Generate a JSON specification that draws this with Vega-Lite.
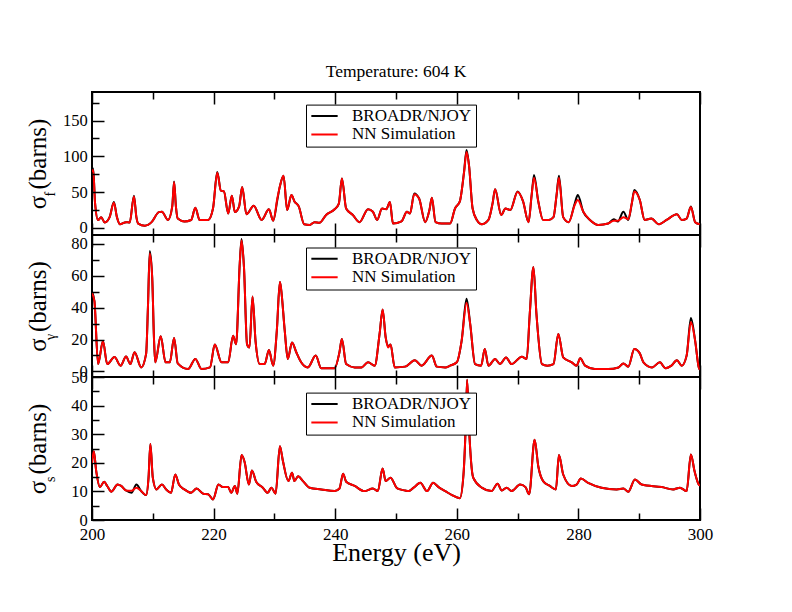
{
  "$schema": "https://vega.github.io/schema/vega-lite/v6.json",
  "background": "white",
  "padding": {"left": 24, "top": 61, "right": 5, "bottom": 5},
  "spacing": 0,
  "bounds": "flush",
  "datasets": {
    "fis": [
      {"E":200,"BROADR/NJOY":80,"NN Simulation":78},{"E":200.2,"BROADR/NJOY":83,"NN Simulation":81},{"E":200.5,"BROADR/NJOY":35,"NN Simulation":35},{"E":201,"BROADR/NJOY":11,"NN Simulation":11},{"E":201.5,"BROADR/NJOY":15,"NN Simulation":15},{"E":202.1,"BROADR/NJOY":7.5,"NN Simulation":7.5},{"E":202.9,"BROADR/NJOY":15,"NN Simulation":15},{"E":203.6,"BROADR/NJOY":36,"NN Simulation":35},{"E":204.1,"BROADR/NJOY":15,"NN Simulation":15},{"E":204.6,"BROADR/NJOY":5,"NN Simulation":5},{"E":205.6,"BROADR/NJOY":8,"NN Simulation":8},{"E":206.2,"BROADR/NJOY":7.5,"NN Simulation":7.5},{"E":206.9,"BROADR/NJOY":45,"NN Simulation":44},{"E":207.3,"BROADR/NJOY":15,"NN Simulation":15},{"E":207.6,"BROADR/NJOY":6,"NN Simulation":6},{"E":208.7,"BROADR/NJOY":3,"NN Simulation":3},{"E":209.8,"BROADR/NJOY":8,"NN Simulation":8},{"E":211,"BROADR/NJOY":22,"NN Simulation":22},{"E":211.5,"BROADR/NJOY":22.5,"NN Simulation":22.5},{"E":212.5,"BROADR/NJOY":11,"NN Simulation":11},{"E":213.2,"BROADR/NJOY":30,"NN Simulation":30},{"E":213.5,"BROADR/NJOY":65,"NN Simulation":64},{"E":213.8,"BROADR/NJOY":30,"NN Simulation":30},{"E":214.1,"BROADR/NJOY":13,"NN Simulation":13},{"E":215.2,"BROADR/NJOY":9,"NN Simulation":9},{"E":216.3,"BROADR/NJOY":11,"NN Simulation":11},{"E":217,"BROADR/NJOY":28,"NN Simulation":28},{"E":217.7,"BROADR/NJOY":11,"NN Simulation":11},{"E":219.1,"BROADR/NJOY":11,"NN Simulation":11},{"E":219.9,"BROADR/NJOY":27,"NN Simulation":27},{"E":220.6,"BROADR/NJOY":78,"NN Simulation":77},{"E":221.2,"BROADR/NJOY":52,"NN Simulation":52},{"E":221.7,"BROADR/NJOY":51,"NN Simulation":51},{"E":222.4,"BROADR/NJOY":20,"NN Simulation":20},{"E":223,"BROADR/NJOY":45,"NN Simulation":45},{"E":223.5,"BROADR/NJOY":22,"NN Simulation":22},{"E":224.2,"BROADR/NJOY":30,"NN Simulation":30},{"E":224.7,"BROADR/NJOY":57,"NN Simulation":57},{"E":225.4,"BROADR/NJOY":19,"NN Simulation":19},{"E":226.6,"BROADR/NJOY":31,"NN Simulation":31},{"E":227.9,"BROADR/NJOY":11,"NN Simulation":11},{"E":229.1,"BROADR/NJOY":26,"NN Simulation":26},{"E":229.8,"BROADR/NJOY":10,"NN Simulation":10},{"E":230.5,"BROADR/NJOY":40,"NN Simulation":42},{"E":230.9,"BROADR/NJOY":58,"NN Simulation":58},{"E":231.5,"BROADR/NJOY":73,"NN Simulation":73},{"E":232.1,"BROADR/NJOY":25,"NN Simulation":25},{"E":232.8,"BROADR/NJOY":46,"NN Simulation":46},{"E":233.3,"BROADR/NJOY":37,"NN Simulation":37},{"E":234,"BROADR/NJOY":30,"NN Simulation":30},{"E":234.9,"BROADR/NJOY":5,"NN Simulation":5},{"E":235.8,"BROADR/NJOY":4,"NN Simulation":4},{"E":236.6,"BROADR/NJOY":8,"NN Simulation":8},{"E":237.4,"BROADR/NJOY":7,"NN Simulation":7},{"E":238.5,"BROADR/NJOY":18,"NN Simulation":18},{"E":239.9,"BROADR/NJOY":26,"NN Simulation":26},{"E":240.6,"BROADR/NJOY":34,"NN Simulation":34},{"E":241.1,"BROADR/NJOY":69,"NN Simulation":69},{"E":241.8,"BROADR/NJOY":27,"NN Simulation":27},{"E":242.9,"BROADR/NJOY":18,"NN Simulation":18},{"E":244,"BROADR/NJOY":8,"NN Simulation":8},{"E":245.4,"BROADR/NJOY":26,"NN Simulation":26},{"E":246.2,"BROADR/NJOY":22.5,"NN Simulation":22.5},{"E":246.9,"BROADR/NJOY":11,"NN Simulation":11},{"E":247.7,"BROADR/NJOY":27,"NN Simulation":27},{"E":248.4,"BROADR/NJOY":26,"NN Simulation":26},{"E":249,"BROADR/NJOY":36,"NN Simulation":36},{"E":249.5,"BROADR/NJOY":6,"NN Simulation":6},{"E":250.9,"BROADR/NJOY":9,"NN Simulation":9},{"E":251.8,"BROADR/NJOY":22.5,"NN Simulation":22.5},{"E":252.3,"BROADR/NJOY":20,"NN Simulation":20},{"E":253,"BROADR/NJOY":48,"NN Simulation":47},{"E":253.8,"BROADR/NJOY":41,"NN Simulation":41},{"E":254.8,"BROADR/NJOY":8,"NN Simulation":8},{"E":255.5,"BROADR/NJOY":25,"NN Simulation":25},{"E":255.9,"BROADR/NJOY":42,"NN Simulation":42},{"E":256.5,"BROADR/NJOY":8,"NN Simulation":8},{"E":257.5,"BROADR/NJOY":6,"NN Simulation":6},{"E":258.9,"BROADR/NJOY":6,"NN Simulation":6},{"E":259.7,"BROADR/NJOY":27,"NN Simulation":27},{"E":260.5,"BROADR/NJOY":37,"NN Simulation":37},{"E":261.2,"BROADR/NJOY":79,"NN Simulation":78},{"E":261.6,"BROADR/NJOY":109,"NN Simulation":106},{"E":262,"BROADR/NJOY":88,"NN Simulation":88},{"E":262.6,"BROADR/NJOY":27,"NN Simulation":27},{"E":263.3,"BROADR/NJOY":11,"NN Simulation":11},{"E":264.1,"BROADR/NJOY":5,"NN Simulation":5},{"E":265.2,"BROADR/NJOY":11,"NN Simulation":11},{"E":265.9,"BROADR/NJOY":35,"NN Simulation":35},{"E":266.3,"BROADR/NJOY":54,"NN Simulation":54},{"E":267.3,"BROADR/NJOY":18,"NN Simulation":18},{"E":268,"BROADR/NJOY":27,"NN Simulation":27},{"E":268.8,"BROADR/NJOY":25,"NN Simulation":25},{"E":270,"BROADR/NJOY":51,"NN Simulation":50},{"E":270.9,"BROADR/NJOY":37,"NN Simulation":37},{"E":271.8,"BROADR/NJOY":8,"NN Simulation":8},{"E":272.3,"BROADR/NJOY":45,"NN Simulation":45},{"E":272.7,"BROADR/NJOY":74,"NN Simulation":70},{"E":273.4,"BROADR/NJOY":37,"NN Simulation":37},{"E":274.2,"BROADR/NJOY":11,"NN Simulation":11},{"E":275.1,"BROADR/NJOY":11,"NN Simulation":11},{"E":275.9,"BROADR/NJOY":15,"NN Simulation":15},{"E":276.4,"BROADR/NJOY":45,"NN Simulation":45},{"E":276.8,"BROADR/NJOY":73,"NN Simulation":70},{"E":277.5,"BROADR/NJOY":15,"NN Simulation":15},{"E":278.4,"BROADR/NJOY":8,"NN Simulation":8},{"E":279.4,"BROADR/NJOY":34,"NN Simulation":32},{"E":279.9,"BROADR/NJOY":46,"NN Simulation":39},{"E":280.8,"BROADR/NJOY":22.5,"NN Simulation":22.5},{"E":281.9,"BROADR/NJOY":11,"NN Simulation":11},{"E":283.3,"BROADR/NJOY":4,"NN Simulation":4},{"E":284.9,"BROADR/NJOY":6,"NN Simulation":6},{"E":285.8,"BROADR/NJOY":12,"NN Simulation":10},{"E":286.5,"BROADR/NJOY":9,"NN Simulation":10},{"E":287.4,"BROADR/NJOY":22.5,"NN Simulation":15},{"E":288.2,"BROADR/NJOY":11,"NN Simulation":12},{"E":288.8,"BROADR/NJOY":35,"NN Simulation":35},{"E":289.2,"BROADR/NJOY":53,"NN Simulation":51},{"E":290.1,"BROADR/NJOY":39,"NN Simulation":39},{"E":290.9,"BROADR/NJOY":11,"NN Simulation":11},{"E":292,"BROADR/NJOY":13,"NN Simulation":13},{"E":293.2,"BROADR/NJOY":5,"NN Simulation":5},{"E":294.5,"BROADR/NJOY":11,"NN Simulation":11},{"E":296.2,"BROADR/NJOY":19,"NN Simulation":19},{"E":297,"BROADR/NJOY":11,"NN Simulation":11},{"E":297.8,"BROADR/NJOY":13,"NN Simulation":13},{"E":298.5,"BROADR/NJOY":30,"NN Simulation":29},{"E":299.2,"BROADR/NJOY":8,"NN Simulation":8},{"E":300,"BROADR/NJOY":5,"NN Simulation":5}
    ],
    "cap": [
      {"E":200,"BROADR/NJOY":50,"NN Simulation":49},{"E":200.4,"BROADR/NJOY":44,"NN Simulation":44},{"E":201,"BROADR/NJOY":4.6,"NN Simulation":4.6},{"E":201.8,"BROADR/NJOY":19,"NN Simulation":19},{"E":202.5,"BROADR/NJOY":4.6,"NN Simulation":4.6},{"E":203.7,"BROADR/NJOY":9,"NN Simulation":9},{"E":204.7,"BROADR/NJOY":3.6,"NN Simulation":3.6},{"E":205.6,"BROADR/NJOY":9.4,"NN Simulation":9.4},{"E":206.3,"BROADR/NJOY":4.6,"NN Simulation":4.6},{"E":207,"BROADR/NJOY":12,"NN Simulation":12},{"E":208.1,"BROADR/NJOY":2.5,"NN Simulation":2.5},{"E":208.9,"BROADR/NJOY":11,"NN Simulation":11},{"E":209.2,"BROADR/NJOY":40,"NN Simulation":40},{"E":209.5,"BROADR/NJOY":75.5,"NN Simulation":74},{"E":209.9,"BROADR/NJOY":59,"NN Simulation":59},{"E":210.2,"BROADR/NJOY":20,"NN Simulation":20},{"E":210.4,"BROADR/NJOY":5.7,"NN Simulation":5.7},{"E":211.3,"BROADR/NJOY":22,"NN Simulation":22},{"E":212.1,"BROADR/NJOY":5.7,"NN Simulation":5.7},{"E":212.8,"BROADR/NJOY":5.7,"NN Simulation":5.7},{"E":213.5,"BROADR/NJOY":21,"NN Simulation":21},{"E":214.1,"BROADR/NJOY":5,"NN Simulation":5},{"E":215.8,"BROADR/NJOY":1.5,"NN Simulation":1.5},{"E":217,"BROADR/NJOY":7.8,"NN Simulation":7.8},{"E":218,"BROADR/NJOY":1.5,"NN Simulation":1.5},{"E":219.4,"BROADR/NJOY":2.5,"NN Simulation":2.5},{"E":220.2,"BROADR/NJOY":16.8,"NN Simulation":16.8},{"E":221.3,"BROADR/NJOY":5.7,"NN Simulation":5.7},{"E":222.4,"BROADR/NJOY":5.7,"NN Simulation":5.7},{"E":223.2,"BROADR/NJOY":22.4,"NN Simulation":22.4},{"E":223.7,"BROADR/NJOY":17,"NN Simulation":17},{"E":224.3,"BROADR/NJOY":67.5,"NN Simulation":67.5},{"E":224.6,"BROADR/NJOY":83,"NN Simulation":82},{"E":225,"BROADR/NJOY":65,"NN Simulation":65},{"E":225.5,"BROADR/NJOY":17,"NN Simulation":17},{"E":225.9,"BROADR/NJOY":15,"NN Simulation":15},{"E":226.4,"BROADR/NJOY":47,"NN Simulation":47},{"E":226.9,"BROADR/NJOY":19,"NN Simulation":19},{"E":227.6,"BROADR/NJOY":4.6,"NN Simulation":4.6},{"E":228.4,"BROADR/NJOY":4.6,"NN Simulation":4.6},{"E":229.1,"BROADR/NJOY":13.4,"NN Simulation":13.4},{"E":229.8,"BROADR/NJOY":3.6,"NN Simulation":3.6},{"E":230.4,"BROADR/NJOY":25.6,"NN Simulation":25.6},{"E":230.9,"BROADR/NJOY":56,"NN Simulation":56},{"E":231.1,"BROADR/NJOY":51.8,"NN Simulation":51.8},{"E":231.7,"BROADR/NJOY":25.6,"NN Simulation":25.6},{"E":232.2,"BROADR/NJOY":7.8,"NN Simulation":7.8},{"E":232.9,"BROADR/NJOY":18.2,"NN Simulation":18.2},{"E":233.6,"BROADR/NJOY":12,"NN Simulation":12},{"E":234.4,"BROADR/NJOY":5.7,"NN Simulation":5.7},{"E":235.5,"BROADR/NJOY":2.5,"NN Simulation":2.5},{"E":236.8,"BROADR/NJOY":9.9,"NN Simulation":9.9},{"E":237.7,"BROADR/NJOY":2,"NN Simulation":2},{"E":239.9,"BROADR/NJOY":2,"NN Simulation":2},{"E":240.7,"BROADR/NJOY":12,"NN Simulation":12},{"E":241.1,"BROADR/NJOY":20.3,"NN Simulation":20.3},{"E":241.8,"BROADR/NJOY":4.6,"NN Simulation":4.6},{"E":243.2,"BROADR/NJOY":2.5,"NN Simulation":2.5},{"E":244.3,"BROADR/NJOY":2.5,"NN Simulation":2.5},{"E":245.4,"BROADR/NJOY":5.7,"NN Simulation":5.7},{"E":246.5,"BROADR/NJOY":3.6,"NN Simulation":3.6},{"E":247.3,"BROADR/NJOY":23.5,"NN Simulation":23.5},{"E":247.8,"BROADR/NJOY":38.8,"NN Simulation":38.8},{"E":248.3,"BROADR/NJOY":21.4,"NN Simulation":21.4},{"E":248.7,"BROADR/NJOY":16,"NN Simulation":15},{"E":249.1,"BROADR/NJOY":16.8,"NN Simulation":16.8},{"E":249.8,"BROADR/NJOY":2.5,"NN Simulation":2.5},{"E":251.5,"BROADR/NJOY":3,"NN Simulation":3},{"E":253.1,"BROADR/NJOY":7,"NN Simulation":7},{"E":254.2,"BROADR/NJOY":3.6,"NN Simulation":3.6},{"E":255.9,"BROADR/NJOY":9.9,"NN Simulation":9.9},{"E":256.7,"BROADR/NJOY":3,"NN Simulation":3},{"E":258.1,"BROADR/NJOY":2.5,"NN Simulation":2.5},{"E":258.9,"BROADR/NJOY":3.6,"NN Simulation":3.6},{"E":260,"BROADR/NJOY":5.7,"NN Simulation":5.7},{"E":260.8,"BROADR/NJOY":19.3,"NN Simulation":19.3},{"E":261.6,"BROADR/NJOY":45.5,"NN Simulation":43},{"E":262.2,"BROADR/NJOY":29.8,"NN Simulation":29.8},{"E":263,"BROADR/NJOY":4.6,"NN Simulation":4.6},{"E":264,"BROADR/NJOY":3.6,"NN Simulation":3.6},{"E":264.6,"BROADR/NJOY":14,"NN Simulation":14},{"E":265.2,"BROADR/NJOY":3.6,"NN Simulation":3.6},{"E":266.3,"BROADR/NJOY":7.8,"NN Simulation":7.8},{"E":267.1,"BROADR/NJOY":4.6,"NN Simulation":4.6},{"E":268.1,"BROADR/NJOY":8.8,"NN Simulation":8.8},{"E":269,"BROADR/NJOY":4.6,"NN Simulation":4.6},{"E":270.7,"BROADR/NJOY":9.2,"NN Simulation":9.2},{"E":271.5,"BROADR/NJOY":7.8,"NN Simulation":7.8},{"E":272,"BROADR/NJOY":36,"NN Simulation":36},{"E":272.6,"BROADR/NJOY":65.4,"NN Simulation":65.4},{"E":273.1,"BROADR/NJOY":36,"NN Simulation":36},{"E":274,"BROADR/NJOY":4.6,"NN Simulation":4.6},{"E":274.9,"BROADR/NJOY":3.6,"NN Simulation":3.6},{"E":275.9,"BROADR/NJOY":4.6,"NN Simulation":4.6},{"E":276.7,"BROADR/NJOY":23.5,"NN Simulation":23.5},{"E":277.5,"BROADR/NJOY":8.8,"NN Simulation":8.8},{"E":278.9,"BROADR/NJOY":5.7,"NN Simulation":5.7},{"E":279.7,"BROADR/NJOY":3.6,"NN Simulation":3.6},{"E":280.3,"BROADR/NJOY":8.2,"NN Simulation":8.2},{"E":281.1,"BROADR/NJOY":3.6,"NN Simulation":3.6},{"E":282.7,"BROADR/NJOY":1.5,"NN Simulation":1.5},{"E":284.9,"BROADR/NJOY":1.5,"NN Simulation":1.5},{"E":286.6,"BROADR/NJOY":2.5,"NN Simulation":2.5},{"E":287.4,"BROADR/NJOY":5,"NN Simulation":5},{"E":288.2,"BROADR/NJOY":3,"NN Simulation":3},{"E":289.2,"BROADR/NJOY":14,"NN Simulation":14},{"E":290.1,"BROADR/NJOY":11.3,"NN Simulation":11.3},{"E":290.7,"BROADR/NJOY":5.7,"NN Simulation":5.7},{"E":292.1,"BROADR/NJOY":2.5,"NN Simulation":2.5},{"E":293.4,"BROADR/NJOY":5.7,"NN Simulation":5.7},{"E":294.3,"BROADR/NJOY":2,"NN Simulation":2},{"E":295.3,"BROADR/NJOY":3.6,"NN Simulation":3.6},{"E":296.2,"BROADR/NJOY":7,"NN Simulation":7},{"E":297,"BROADR/NJOY":3.6,"NN Simulation":3.6},{"E":297.8,"BROADR/NJOY":9.9,"NN Simulation":9.9},{"E":298.5,"BROADR/NJOY":33.5,"NN Simulation":31},{"E":299.2,"BROADR/NJOY":19.3,"NN Simulation":19.3},{"E":299.8,"BROADR/NJOY":2.5,"NN Simulation":2.5},{"E":300,"BROADR/NJOY":1,"NN Simulation":1}
    ],
    "sca": [
      {"E":200,"BROADR/NJOY":20,"NN Simulation":20},{"E":200.3,"BROADR/NJOY":24,"NN Simulation":24},{"E":200.7,"BROADR/NJOY":17,"NN Simulation":17},{"E":201.3,"BROADR/NJOY":11.5,"NN Simulation":11.5},{"E":202,"BROADR/NJOY":13.4,"NN Simulation":13.4},{"E":202.5,"BROADR/NJOY":11.9,"NN Simulation":11.9},{"E":203.2,"BROADR/NJOY":9.9,"NN Simulation":9.9},{"E":204.2,"BROADR/NJOY":12.4,"NN Simulation":12.4},{"E":204.8,"BROADR/NJOY":11.9,"NN Simulation":11.9},{"E":205.6,"BROADR/NJOY":10.3,"NN Simulation":10.3},{"E":206.5,"BROADR/NJOY":9.5,"NN Simulation":10.2},{"E":207.3,"BROADR/NJOY":12.4,"NN Simulation":11.3},{"E":208.1,"BROADR/NJOY":10.1,"NN Simulation":10.1},{"E":208.9,"BROADR/NJOY":8.7,"NN Simulation":8.7},{"E":209.3,"BROADR/NJOY":14.8,"NN Simulation":14.8},{"E":209.6,"BROADR/NJOY":26.6,"NN Simulation":26.6},{"E":210,"BROADR/NJOY":14.8,"NN Simulation":14.8},{"E":210.6,"BROADR/NJOY":10.7,"NN Simulation":10.7},{"E":211.5,"BROADR/NJOY":12.4,"NN Simulation":12.4},{"E":212.2,"BROADR/NJOY":10.7,"NN Simulation":10.7},{"E":213,"BROADR/NJOY":9.5,"NN Simulation":9.5},{"E":213.7,"BROADR/NJOY":15.9,"NN Simulation":15.9},{"E":214.3,"BROADR/NJOY":12.4,"NN Simulation":12.4},{"E":215.2,"BROADR/NJOY":10.7,"NN Simulation":10.7},{"E":216.3,"BROADR/NJOY":9.5,"NN Simulation":9.5},{"E":217.2,"BROADR/NJOY":11,"NN Simulation":11},{"E":218.3,"BROADR/NJOY":9.2,"NN Simulation":9.2},{"E":219.1,"BROADR/NJOY":9,"NN Simulation":9},{"E":219.9,"BROADR/NJOY":7.2,"NN Simulation":7.2},{"E":220.8,"BROADR/NJOY":12.4,"NN Simulation":12.4},{"E":221.5,"BROADR/NJOY":11.5,"NN Simulation":11.5},{"E":222.4,"BROADR/NJOY":11.5,"NN Simulation":11.5},{"E":222.9,"BROADR/NJOY":9.5,"NN Simulation":9.5},{"E":223.5,"BROADR/NJOY":11.9,"NN Simulation":11.9},{"E":223.9,"BROADR/NJOY":9.2,"NN Simulation":9.2},{"E":224.6,"BROADR/NJOY":22.7,"NN Simulation":22.7},{"E":225.1,"BROADR/NJOY":20.3,"NN Simulation":20.3},{"E":225.8,"BROADR/NJOY":12.4,"NN Simulation":12.4},{"E":226.3,"BROADR/NJOY":17.3,"NN Simulation":17.3},{"E":227,"BROADR/NJOY":13.4,"NN Simulation":13.4},{"E":228.1,"BROADR/NJOY":11.3,"NN Simulation":11.3},{"E":228.9,"BROADR/NJOY":9.5,"NN Simulation":9.5},{"E":229.5,"BROADR/NJOY":11.3,"NN Simulation":11.3},{"E":230.2,"BROADR/NJOY":9.2,"NN Simulation":9.2},{"E":230.9,"BROADR/NJOY":25.8,"NN Simulation":25.8},{"E":231.4,"BROADR/NJOY":20.6,"NN Simulation":20.6},{"E":232.3,"BROADR/NJOY":13.6,"NN Simulation":13.6},{"E":232.9,"BROADR/NJOY":16.5,"NN Simulation":16.5},{"E":233.3,"BROADR/NJOY":13.6,"NN Simulation":13.6},{"E":233.9,"BROADR/NJOY":15.3,"NN Simulation":15.3},{"E":234.7,"BROADR/NJOY":13.6,"NN Simulation":13.6},{"E":235.8,"BROADR/NJOY":11.3,"NN Simulation":11.3},{"E":237.7,"BROADR/NJOY":10.7,"NN Simulation":10.7},{"E":239.9,"BROADR/NJOY":10.1,"NN Simulation":10.1},{"E":240.7,"BROADR/NJOY":11,"NN Simulation":11},{"E":241.3,"BROADR/NJOY":16.2,"NN Simulation":16.2},{"E":241.8,"BROADR/NJOY":13.4,"NN Simulation":13.4},{"E":243.2,"BROADR/NJOY":11.9,"NN Simulation":11.9},{"E":244.8,"BROADR/NJOY":10.1,"NN Simulation":10.1},{"E":246.2,"BROADR/NJOY":11,"NN Simulation":11},{"E":247,"BROADR/NJOY":10.1,"NN Simulation":10.1},{"E":247.8,"BROADR/NJOY":18,"NN Simulation":18},{"E":248.3,"BROADR/NJOY":13.6,"NN Simulation":13.6},{"E":249.1,"BROADR/NJOY":14.8,"NN Simulation":14.8},{"E":250.1,"BROADR/NJOY":11.3,"NN Simulation":11.3},{"E":250.7,"BROADR/NJOY":10.7,"NN Simulation":10.7},{"E":251.5,"BROADR/NJOY":10.3,"NN Simulation":10.3},{"E":252.1,"BROADR/NJOY":10.1,"NN Simulation":10.1},{"E":252.9,"BROADR/NJOY":11.3,"NN Simulation":11.3},{"E":254,"BROADR/NJOY":13,"NN Simulation":13},{"E":255.1,"BROADR/NJOY":10.1,"NN Simulation":10.1},{"E":256.1,"BROADR/NJOY":13,"NN Simulation":13},{"E":257,"BROADR/NJOY":11.5,"NN Simulation":11.5},{"E":258.1,"BROADR/NJOY":10.1,"NN Simulation":10.1},{"E":259.2,"BROADR/NJOY":8.7,"NN Simulation":8.7},{"E":260.5,"BROADR/NJOY":7.6,"NN Simulation":7.6},{"E":261.1,"BROADR/NJOY":15.9,"NN Simulation":15.9},{"E":261.5,"BROADR/NJOY":35,"NN Simulation":35},{"E":261.7,"BROADR/NJOY":49,"NN Simulation":49},{"E":262,"BROADR/NJOY":33,"NN Simulation":33},{"E":262.7,"BROADR/NJOY":14.8,"NN Simulation":14.8},{"E":264.1,"BROADR/NJOY":11.3,"NN Simulation":11.3},{"E":265.7,"BROADR/NJOY":10.1,"NN Simulation":10.1},{"E":266.7,"BROADR/NJOY":12.7,"NN Simulation":12.7},{"E":267.4,"BROADR/NJOY":10.3,"NN Simulation":10.3},{"E":268.2,"BROADR/NJOY":11.3,"NN Simulation":11.3},{"E":269,"BROADR/NJOY":10.1,"NN Simulation":10.1},{"E":270.4,"BROADR/NJOY":12.4,"NN Simulation":12.4},{"E":271.3,"BROADR/NJOY":11.5,"NN Simulation":11.5},{"E":271.9,"BROADR/NJOY":9,"NN Simulation":9},{"E":272.8,"BROADR/NJOY":28.1,"NN Simulation":28.1},{"E":273.4,"BROADR/NJOY":18.8,"NN Simulation":18.8},{"E":274.2,"BROADR/NJOY":13.6,"NN Simulation":13.6},{"E":275.3,"BROADR/NJOY":11.9,"NN Simulation":11.9},{"E":276.3,"BROADR/NJOY":10.7,"NN Simulation":10.7},{"E":276.8,"BROADR/NJOY":22.7,"NN Simulation":22.7},{"E":277.5,"BROADR/NJOY":15.9,"NN Simulation":15.9},{"E":278.9,"BROADR/NJOY":11.9,"NN Simulation":11.9},{"E":279.7,"BROADR/NJOY":12.4,"NN Simulation":12.4},{"E":280.4,"BROADR/NJOY":14.5,"NN Simulation":14.5},{"E":281.6,"BROADR/NJOY":13,"NN Simulation":13},{"E":283.8,"BROADR/NJOY":11.3,"NN Simulation":11.3},{"E":286.3,"BROADR/NJOY":10.7,"NN Simulation":10.7},{"E":287.4,"BROADR/NJOY":11,"NN Simulation":11},{"E":288.2,"BROADR/NJOY":9.9,"NN Simulation":9.9},{"E":289.3,"BROADR/NJOY":14.2,"NN Simulation":14.2},{"E":290.4,"BROADR/NJOY":12.4,"NN Simulation":12.4},{"E":293.7,"BROADR/NJOY":11.5,"NN Simulation":11.5},{"E":295.6,"BROADR/NJOY":10.7,"NN Simulation":10.7},{"E":296.7,"BROADR/NJOY":11.3,"NN Simulation":11.3},{"E":297.8,"BROADR/NJOY":10.1,"NN Simulation":10.1},{"E":298.5,"BROADR/NJOY":22.9,"NN Simulation":22.9},{"E":299.1,"BROADR/NJOY":17.1,"NN Simulation":17.1},{"E":299.8,"BROADR/NJOY":12.4,"NN Simulation":12.4},{"E":300,"BROADR/NJOY":12,"NN Simulation":12}
    ]
  },
  "vconcat": [
    {
      "width": 608, "height": 143,
      "title": {"text": "Temperature: 604 K", "font": "Liberation Serif", "fontSize": 17.5, "fontWeight": "normal", "color": "black", "anchor": "middle", "frame": "group", "baseline": "alphabetic", "offset": -3},
      "data": {"name": "fis"},
      "layer": [
        {
          "transform": [{"fold": ["BROADR/NJOY", "NN Simulation"], "as": ["series", "sigma"]}],
          "mark": {"type": "line", "strokeWidth": 2, "clip": true, "interpolate": "monotone"},
          "encoding": {
            "x": {"field": "E", "type": "quantitative", "scale": {"domain": [200, 300], "nice": false, "zero": false},
                  "axis": {"orient": "bottom", "offset": -12, "zindex": 1, "domain": false, "grid": false, "tickColor": "#000000", "tickWidth": 1.5, "values": [200,210,220,230,240,250,260,270,280,290,300], "labels": false, "title": null, "tickSize": 12, "tickDash": {"condition": {"test": "datum.value % 20 === 0", "value": [12, 0]}, "value": [0, 5, 7, 0]}, "minExtent": 0, "maxExtent": 0}},
            "y": {"field": "sigma", "type": "quantitative", "scale": {"domain": [-10, 190], "nice": false, "zero": false},
                  "axis": {"orient": "left", "offset": -12, "zindex": 1, "domain": false, "grid": false, "tickColor": "#000000", "tickWidth": 1.5, "values": [0,25,50,75,100,125,150,175], "labelExpr": "datum.value % 50 === 0 ? datum.label : ''", "labelOverlap": false, "tickSize": 12, "tickDash": {"condition": {"test": "datum.value % 50 === 0", "value": [12, 0]}, "value": [0, 5, 7, 0]}, "labelFontSize": 16.5, "labelPadding": 4.7, "title": "σ  (barns)", "titleFontSize": 25, "titlePadding": 25, "minExtent": 29, "maxExtent": 29}},
            "color": {"field": "series", "type": "nominal", "scale": {"domain": ["BROADR/NJOY", "NN Simulation"], "range": ["#000000", "#ff0000"]},
                      "legend": {"title": null, "orient": "none", "legendX": 214, "legendY": 12.6, "direction": "vertical", "symbolType": "stroke", "symbolSize": 692, "symbolStrokeWidth": 2, "labelFont": "Liberation Serif", "labelFontSize": 17, "labelColor": "black", "labelOffset": 13, "padding": 4, "strokeColor": "black", "fillColor": "white", "rowPadding": 0.5, "clipHeight": 14.6}}
          }
        },
        {
          "transform": [{"fold": ["BROADR/NJOY", "NN Simulation"], "as": ["series", "sigma"]}],
          "mark": {"type": "line", "opacity": 0},
          "encoding": {
            "x": {"field": "E", "type": "quantitative", "axis": {"orient": "top", "offset": -12, "zindex": 1, "domain": false, "grid": false, "tickColor": "#000000", "tickWidth": 1.5, "values": [200,210,220,230,240,250,260,270,280,290,300], "labels": false, "title": null, "tickSize": 12, "tickDash": {"condition": {"test": "datum.value % 20 === 0", "value": [12, 0]}, "value": [0, 5, 7, 0]}, "minExtent": 0, "maxExtent": 0}},
            "y": {"field": "sigma", "type": "quantitative", "axis": null}
          }
        },
        {
          "data": {"values": [{}]},
          "mark": {"type": "text", "angle": 270, "align": "center", "baseline": "alphabetic", "font": "Liberation Serif", "fontSize": 14, "color": "black"},
          "encoding": {
            "x": {"datum": 193.9, "type": "quantitative", "axis": null},
            "y": {"datum": 47, "type": "quantitative", "axis": null},
            "text": {"value": "f"}
          }
        }
      ],
      "resolve": {"axis": {"x": "independent", "y": "independent"}}
    },
    {
      "width": 608, "height": 142,
      "data": {"name": "cap"},
      "layer": [
        {
          "transform": [{"fold": ["BROADR/NJOY", "NN Simulation"], "as": ["series", "sigma"]}],
          "mark": {"type": "line", "strokeWidth": 2, "clip": true, "interpolate": "monotone"},
          "encoding": {
            "x": {"field": "E", "type": "quantitative", "scale": {"domain": [200, 300], "nice": false, "zero": false},
                  "axis": {"orient": "bottom", "offset": -12, "zindex": 1, "domain": false, "grid": false, "tickColor": "#000000", "tickWidth": 1.5, "values": [200,210,220,230,240,250,260,270,280,290,300], "labels": false, "title": null, "tickSize": 12, "tickDash": {"condition": {"test": "datum.value % 20 === 0", "value": [12, 0]}, "value": [0, 5, 7, 0]}, "minExtent": 0, "maxExtent": 0}},
            "y": {"field": "sigma", "type": "quantitative", "scale": {"domain": [-3.5, 85.5], "nice": false, "zero": false},
                  "axis": {"orient": "left", "offset": -12, "zindex": 1, "domain": false, "grid": false, "tickColor": "#000000", "tickWidth": 1.5, "values": [0,10,20,30,40,50,60,70,80], "labelExpr": "datum.value % 20 === 0 ? datum.label : ''", "labelOverlap": false, "tickSize": 12, "tickDash": {"condition": {"test": "datum.value % 20 === 0", "value": [12, 0]}, "value": [0, 5, 7, 0]}, "labelFontSize": 16.5, "labelPadding": 4.7, "title": "σ  (barns)", "titleFontSize": 25, "titlePadding": 25, "minExtent": 29, "maxExtent": 29}},
            "color": {"field": "series", "type": "nominal", "scale": {"domain": ["BROADR/NJOY", "NN Simulation"], "range": ["#000000", "#ff0000"]},
                      "legend": {"title": null, "orient": "none", "legendX": 214, "legendY": 12.5, "direction": "vertical", "symbolType": "stroke", "symbolSize": 692, "symbolStrokeWidth": 2, "labelFont": "Liberation Serif", "labelFontSize": 17, "labelColor": "black", "labelOffset": 13, "padding": 4, "strokeColor": "black", "fillColor": "white", "rowPadding": 0.5, "clipHeight": 14.6}}
          }
        },
        {
          "transform": [{"fold": ["BROADR/NJOY", "NN Simulation"], "as": ["series", "sigma"]}],
          "mark": {"type": "line", "opacity": 0},
          "encoding": {
            "x": {"field": "E", "type": "quantitative", "axis": {"orient": "top", "offset": -12, "zindex": 1, "domain": false, "grid": false, "tickColor": "#000000", "tickWidth": 1.5, "values": [200,210,220,230,240,250,260,270,280,290,300], "labels": false, "title": null, "tickSize": 12, "tickDash": {"condition": {"test": "datum.value % 20 === 0", "value": [12, 0]}, "value": [0, 5, 7, 0]}, "minExtent": 0, "maxExtent": 0}},
            "y": {"field": "sigma", "type": "quantitative", "axis": null}
          }
        },
        {
          "data": {"values": [{}]},
          "mark": {"type": "text", "angle": 270, "align": "center", "baseline": "alphabetic", "font": "Liberation Serif", "fontSize": 14, "color": "black"},
          "encoding": {
            "x": {"datum": 193.9, "type": "quantitative", "axis": null},
            "y": {"datum": 21.7, "type": "quantitative", "axis": null},
            "text": {"value": "γ"}
          }
        }
      ],
      "resolve": {"axis": {"x": "independent", "y": "independent"}}
    },
    {
      "width": 608, "height": 143,
      "data": {"name": "sca"},
      "layer": [
        {
          "transform": [{"fold": ["BROADR/NJOY", "NN Simulation"], "as": ["series", "sigma"]}],
          "mark": {"type": "line", "strokeWidth": 2, "clip": true, "interpolate": "monotone"},
          "encoding": {
            "x": {"field": "E", "type": "quantitative", "scale": {"domain": [200, 300], "nice": false, "zero": false},
                  "axis": {"orient": "bottom", "offset": -12, "zindex": 1, "domain": false, "grid": false, "tickColor": "#000000", "tickWidth": 1.5, "values": [200,210,220,230,240,250,260,270,280,290,300], "labelExpr": "datum.value % 20 === 0 ? datum.label : ''", "labelOverlap": false, "labelFontSize": 17, "labelPadding": 6, "title": "Energy (eV)", "titleFontSize": 26, "titlePadding": 11, "minExtent": 20, "maxExtent": 20, "tickSize": 12, "tickDash": {"condition": {"test": "datum.value % 20 === 0", "value": [12, 0]}, "value": [0, 5, 7, 0]}}},
            "y": {"field": "sigma", "type": "quantitative", "scale": {"domain": [0, 50], "nice": false, "zero": false},
                  "axis": {"orient": "left", "offset": -12, "zindex": 1, "domain": false, "grid": false, "tickColor": "#000000", "tickWidth": 1.5, "values": [0,5,10,15,20,25,30,35,40,45,50], "labelExpr": "datum.value % 10 === 0 ? datum.label : ''", "labelOverlap": false, "tickSize": 12, "tickDash": {"condition": {"test": "datum.value % 10 === 0", "value": [12, 0]}, "value": [0, 5, 7, 0]}, "labelFontSize": 16.5, "labelPadding": 4.7, "title": "σ  (barns)", "titleFontSize": 25, "titlePadding": 25, "minExtent": 29, "maxExtent": 29}},
            "color": {"field": "series", "type": "nominal", "scale": {"domain": ["BROADR/NJOY", "NN Simulation"], "range": ["#000000", "#ff0000"]},
                      "legend": {"title": null, "orient": "none", "legendX": 214, "legendY": 15.6, "direction": "vertical", "symbolType": "stroke", "symbolSize": 692, "symbolStrokeWidth": 2, "labelFont": "Liberation Serif", "labelFontSize": 17, "labelColor": "black", "labelOffset": 13, "padding": 4, "strokeColor": "black", "fillColor": "white", "rowPadding": 0.5, "clipHeight": 14.6}}
          }
        },
        {
          "transform": [{"fold": ["BROADR/NJOY", "NN Simulation"], "as": ["series", "sigma"]}],
          "mark": {"type": "line", "opacity": 0},
          "encoding": {
            "x": {"field": "E", "type": "quantitative", "axis": {"orient": "top", "offset": -12, "zindex": 1, "domain": false, "grid": false, "tickColor": "#000000", "tickWidth": 1.5, "values": [200,210,220,230,240,250,260,270,280,290,300], "labels": false, "title": null, "tickSize": 12, "tickDash": {"condition": {"test": "datum.value % 20 === 0", "value": [12, 0]}, "value": [0, 5, 7, 0]}, "minExtent": 0, "maxExtent": 0}},
            "y": {"field": "sigma", "type": "quantitative", "axis": null}
          }
        },
        {
          "data": {"values": [{}]},
          "mark": {"type": "text", "angle": 270, "align": "center", "baseline": "alphabetic", "font": "Liberation Serif", "fontSize": 14, "color": "black"},
          "encoding": {
            "x": {"datum": 193.9, "type": "quantitative", "axis": null},
            "y": {"datum": 14.2, "type": "quantitative", "axis": null},
            "text": {"value": "s"}
          }
        }
      ],
      "resolve": {"axis": {"x": "independent", "y": "independent"}}
    }
  ],
  "resolve": {"scale": {"color": "independent", "x": "independent", "y": "independent"}, "legend": {"color": "independent"}},
  "config": {
    "view": {"stroke": "#000000", "strokeWidth": 2},
    "font": "Liberation Serif",
    "axis": {"labelColor": "#000000", "labelFont": "Liberation Serif", "titleFont": "Liberation Serif", "titleColor": "#000000", "titleFontWeight": "normal", "labelFlush": false}
  }
}
